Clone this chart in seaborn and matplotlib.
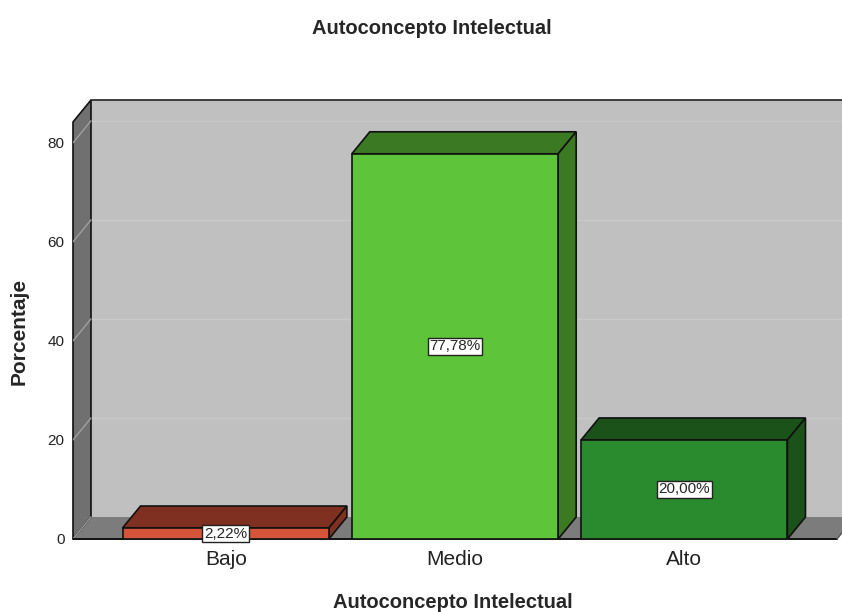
import matplotlib
matplotlib.use('Agg')
import matplotlib.pyplot as plt
from matplotlib.patches import Polygon
import seaborn as sns

# ========== DATOS ==========
categorias = ['Bajo', 'Medio', 'Alto']
porcentajes = [2.22, 77.78, 20.00]
etiquetas = ['2,22%', '77,78%', '20,00%']
ticks_y = [0, 20, 40, 60, 80]

cores_frente = ['#d4553a', '#5ec43a', '#2a8a2e']
cores_escuras = ['#7f3020', '#3b7a22', '#1b5219']

titulo = 'Autoconcepto Intelectual'
rotulo_x = 'Autoconcepto Intelectual'
rotulo_y = 'Porcentaje'

# ========== FIGURA ==========
sns.set_style('white')
plt.rcParams['font.family'] = ['Liberation Sans', 'DejaVu Sans']

W, H = 842, 612
fig = plt.figure(figsize=(W / 100, H / 100), dpi=100)
ax = fig.add_axes([73 / W, (H - 539) / H, (837 - 73) / W, (539 - 100) / H])

x0, x1 = -0.666, 2.666
ytop = 84.2          # alto del plano frontal
dx, dy = 0.0785, 4.44  # profundidad 3D en unidades de datos
ax.set_xlim(x0, x1)
ax.set_ylim(0, ytop + dy)

# paredes
pared_fondo = Polygon([(x0 + dx, dy), (x1 + dx, dy), (x1 + dx, ytop + dy), (x0 + dx, ytop + dy)],
                      closed=True, facecolor='#c0c0c0', edgecolor='none', zorder=0.2, clip_on=False)
ax.add_patch(pared_fondo)
ax.plot([x0 + dx, x1 + dx + 0.2], [ytop + dy, ytop + dy], color='#222222', lw=1.2, zorder=0.9, clip_on=False)

pared_izq = Polygon([(x0, 0), (x0 + dx, dy), (x0 + dx, ytop + dy), (x0, ytop)],
                    closed=True, facecolor='#707070', edgecolor='#111111', lw=1.2, zorder=0.4, clip_on=False)
ax.add_patch(pared_izq)

piso = Polygon([(x0, 0), (x1, 0), (x1 + dx, dy), (x0 + dx, dy)],
               closed=True, facecolor='#7c7c7c', edgecolor='none', zorder=0.3, clip_on=False)
ax.add_patch(piso)
ax.plot([x0, x1], [0, 0], color='#111111', lw=1.4, zorder=0.9, clip_on=False)
ax.plot([x1, x1 + dx], [0, dy], color='#555555', lw=1.0, zorder=0.9, clip_on=False)

# lineas de rejilla
for v in ticks_y:
    if v > 0:
        ax.plot([x0 + dx, x1 + dx + 0.2], [v + dy, v + dy], color='#cacaca', lw=1.0, zorder=0.25, clip_on=False)
    ax.plot([x0, x0 + dx], [v, v + dy], color='#a0a0a0', lw=1.0, zorder=0.5)

# ========== BARRAS ==========
ancho = 0.9
sns.barplot(x=categorias, y=porcentajes, hue=categorias, palette=cores_frente, legend=False,
            width=ancho, edgecolor='#111111', linewidth=1.2, saturation=1, ax=ax, zorder=3)
ax.set_xlim(x0, x1)
ax.set_ylim(0, ytop + dy)

for i, (v, c) in enumerate(zip(porcentajes, cores_escuras)):
    l, r = i - ancho / 2, i + ancho / 2
    topo = Polygon([(l, v), (r, v), (r + dx, v + dy), (l + dx, v + dy)],
                   closed=True, facecolor=c, edgecolor='#111111', lw=1.2, zorder=2)
    lado = Polygon([(r, 0), (r + dx, dy), (r + dx, v + dy), (r, v)],
                   closed=True, facecolor=c, edgecolor='#111111', lw=1.2, zorder=2)
    ax.add_patch(topo)
    ax.add_patch(lado)
    ax.text(i, max(v / 2, 1.0), etiquetas[i], ha='center', va='center', fontsize=11, zorder=5,
            bbox=dict(boxstyle='square,pad=0.12', facecolor='white', edgecolor='#222222', lw=1))

# ========== EJES Y TEXTOS ==========
for s in ax.spines.values():
    s.set_visible(False)
ax.set_yticks(ticks_y)
ax.set_yticklabels([str(t) for t in ticks_y], fontsize=11, color='#222222')
ax.set_xticks(range(len(categorias)))
ax.set_xticklabels(categorias, fontsize=15, color='#222222')
ax.tick_params(axis='y', length=0, pad=6)
ax.tick_params(axis='x', length=0, pad=8)
ax.set_xlabel('')
ax.set_ylabel('')

fig.text(432 / W, 1 - 28 / H, titulo, ha='center', va='center', fontsize=14.5, fontweight='bold')
fig.text(453 / W, 1 - 602 / H, rotulo_x, ha='center', va='center', fontsize=14.5, fontweight='bold')
fig.text(19 / W, 1 - 331 / H, rotulo_y, ha='center', va='center', fontsize=15, fontweight='bold',
         rotation=90)

fig.savefig('out.png', dpi=100, facecolor='white')
